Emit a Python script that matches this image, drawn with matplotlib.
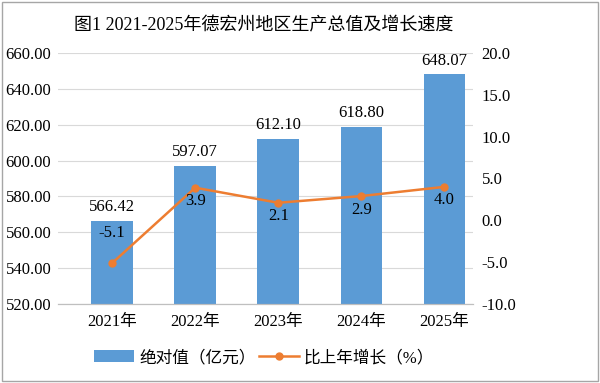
import matplotlib.pyplot as plt
import matplotlib.patches as mpatches
import numpy as np

plt.rcParams['font.family'] = ['Liberation Serif', 'Noto Sans CJK SC']
plt.rcParams['font.size'] = 12

years = ['2021年', '2022年', '2023年', '2024年', '2025年']
gdp = [566.42, 597.07, 612.10, 618.80, 648.07]
growth = [-5.1, 3.9, 2.1, 2.9, 4.0]

blue = '#5B9BD5'
orange = '#ED7D31'

fig = plt.figure(figsize=(6, 3.83), dpi=100)
ax = fig.add_axes([0.097, 0.206, 0.692, 0.656])
ax2 = ax.twinx()

x = np.arange(len(years))
ax.bar(x, gdp, width=0.5, color=blue, zorder=2, label='绝对值（亿元）')
for xi, v in zip(x, gdp):
    ax.text(xi, v + 3, '%.2f' % v, ha='center', va='bottom', fontsize=12)

ax.set_ylim(520, 660)
ax.set_yticks(np.arange(520, 661, 20))
ax.set_yticklabels(['%.2f' % t for t in np.arange(520, 661, 20)])
ax.set_xlim(-0.65, 4.35)
ax.set_xticks(x)
ax.set_xticklabels(years)
ax.grid(axis='y', color='#d9d9d9', linewidth=0.8, zorder=0)
ax.set_axisbelow(True)

ax2.plot(x, growth, color=orange, marker='o', markersize=5, linewidth=1.8, zorder=3, label='比上年增长（%）')
for i, (xi, v) in enumerate(zip(x, growth)):
    if i == 0:
        ax2.annotate('%.1f' % v, (xi, v), xytext=(0, 16), textcoords='offset points', ha='center', va='bottom', fontsize=12)
    else:
        ax2.annotate('%.1f' % v, (xi, v), xytext=(0, -4), textcoords='offset points', ha='center', va='top', fontsize=12)
ax2.set_ylim(-10, 20)
ax2.set_yticks(np.arange(-10, 21, 5))
ax2.set_yticklabels(['%.1f' % t for t in np.arange(-10, 21, 5)])

for a in (ax, ax2):
    for s in ['top', 'left', 'right']:
        a.spines[s].set_visible(False)
    a.spines['bottom'].set_color('#bfbfbf')
    a.tick_params(length=0, labelsize=12)
ax.tick_params(axis='x', pad=7)
ax.tick_params(axis='y', pad=5)
ax2.tick_params(axis='y', pad=6)

fig.suptitle('图1 2021-2025年德宏州地区生产总值及增长速度', x=0.44, y=0.955, fontsize=13)

h1, l1 = ax.get_legend_handles_labels()
h2, l2 = ax2.get_legend_handles_labels()
fig.legend(h1 + h2, l1 + l2, loc='lower center', bbox_to_anchor=(0.44, 0.005), ncol=2,
           frameon=False, fontsize=12, handlelength=2.4, columnspacing=0.2, handletextpad=0.3)

fig.patches.append(mpatches.Rectangle((0.003, 0.004), 0.994, 0.992, transform=fig.transFigure,
                                      fill=False, edgecolor='#a6a6a6', linewidth=1))

fig.savefig('out.png', dpi=100)
